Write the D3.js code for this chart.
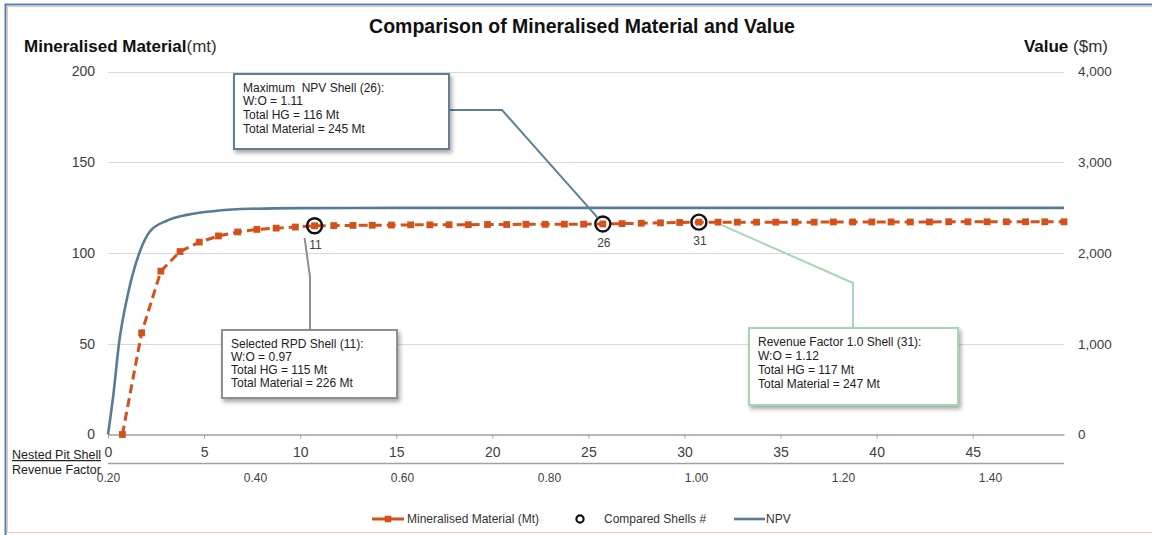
<!DOCTYPE html>
<html>
<head>
<meta charset="utf-8">
<script src="https://cdn.jsdelivr.net/npm/d3@7"></script>
<style>
  body { margin: 0; background: #fff; }
  svg { display: block; font-family: "Liberation Sans", Arial, sans-serif; }
</style>
</head>
<body>
<svg id="chart" width="1152" height="535"></svg>
<script>
// ---- data -------------------------------------------------------------
const shells = d3.range(1, 51);
const mineralisedMt = [
  0, 56, 90, 100.8, 106, 109.4, 111.6, 113, 113.7, 114.3,
  115, 115.1, 115.2, 115.3, 115.4, 115.5, 115.5, 115.6, 115.6, 115.7,
  115.7, 115.8, 115.8, 115.9, 115.9, 116, 116.2, 116.4, 116.6, 116.8,
  117, 117, 117, 117, 117, 117, 117, 117.1, 117.1, 117.1,
  117.1, 117.1, 117.1, 117.2, 117.2, 117.2, 117.2, 117.2, 117.2, 117.2
];
// NPV curve, sampled along the shell axis ($m)
const npvShell = [0, 0.28, 0.57, 1.03, 1.63, 2.19, 3.06, 4.1, 5.66, 7.4, 10, 15, 20, 30, 40, 49.75];
const npvValue = [0, 440, 1000, 1540, 2000, 2240, 2355, 2420, 2465, 2487, 2495, 2497, 2497, 2497, 2497, 2497];
const comparedShells = [11, 26, 31];

const shellTicks = [0, 5, 10, 15, 20, 25, 30, 35, 40, 45];
const revenueTicks = [0.2, 0.4, 0.6, 0.8, 1.0, 1.2, 1.4];
const leftTicks = [0, 50, 100, 150, 200];
const rightTicks = [0, 1000, 2000, 3000, 4000];

const notes = [
  { shell: 26, title: "Maximum  NPV Shell (26):", wo: "W:O = 1.11", hg: "Total HG = 116 Mt", total: "Total Material = 245 Mt" },
  { shell: 11, title: "Selected RPD Shell (11):", wo: "W:O = 0.97", hg: "Total HG = 115 Mt", total: "Total Material = 226 Mt" },
  { shell: 31, title: "Revenue Factor 1.0 Shell (31):", wo: "W:O = 1.12", hg: "Total HG = 117 Mt", total: "Total Material = 247 Mt" }
];

// ---- layout -----------------------------------------------------------
const svg = d3.select("#chart");
const plotL = 108, plotR = 1064, plotT = 71.5, plotB = 434.5;
// shell markers sit a quarter step to the left of their tick
const markerShift = -0.25;

const x = d3.scaleLinear().domain([0, 49.75]).range([plotL, plotR]);
const xRF = d3.scaleLinear().domain([0.2, 1.5]).range([plotL, plotR - 0.5]);
const yL = d3.scaleLinear().domain([0, 200]).range([plotB, plotT]);
const yR = d3.scaleLinear().domain([0, 4000]).range([plotB, plotT]);

const orange = "#D4511B";
const steel = "#557D95";
const tickColor = "#404040";

const defs = svg.append("defs");
const shadow = defs.append("filter").attr("id", "boxShadow")
  .attr("x", "-10%").attr("y", "-10%").attr("width", "130%").attr("height", "140%");
shadow.append("feDropShadow").attr("dx", 2).attr("dy", 3)
  .attr("stdDeviation", 2).attr("flood-color", "#000").attr("flood-opacity", 0.35);

// frame
svg.append("rect").attr("x", 7.5).attr("y", 6.5).attr("width", 1150).attr("height", 526)
  .attr("fill", "none").attr("stroke", "#F7C6A4").attr("stroke-width", 1);
svg.append("path").attr("d", "M5.5,540V4.5H1152")
  .attr("fill", "none").attr("stroke", "#4F81BD").attr("stroke-width", 2);

// title
svg.append("text").attr("x", 582).attr("y", 33).attr("text-anchor", "middle")
  .attr("font-size", 19.5).attr("font-weight", "bold").attr("fill", "#111")
  .text("Comparison of Mineralised Material and Value");

const lt = svg.append("text").attr("x", 24).attr("y", 52).attr("font-size", 17).attr("fill", "#111");
lt.append("tspan").attr("font-weight", "bold").text("Mineralised Material");
lt.append("tspan").attr("fill", "#333").text("(mt)");

const rt = svg.append("text").attr("x", 1108).attr("y", 52).attr("text-anchor", "end").attr("font-size", 17).attr("fill", "#111");
rt.append("tspan").attr("font-weight", "bold").text("Value");
rt.append("tspan").attr("fill", "#333").text(" ($m)");

// gridlines
svg.append("g").selectAll("line").data(leftTicks.filter(d => d > 0)).join("line")
  .attr("x1", plotL).attr("x2", plotR)
  .attr("y1", d => Math.round(yL(d)) + 0.5).attr("y2", d => Math.round(yL(d)) + 0.5)
  .attr("stroke", "#D9D9D9").attr("stroke-width", 1);

// left axis
const gl = svg.append("g").attr("transform", `translate(${plotL - 13},0)`)
  .call(d3.axisLeft(yL).tickValues(leftTicks).tickSize(0).tickPadding(0));
gl.select(".domain").remove();
gl.selectAll("text").attr("font-size", 14).attr("fill", tickColor).attr("font-family", null);

// right axis
const gr = svg.append("g").attr("transform", `translate(${plotR + 14},0)`)
  .call(d3.axisRight(yR).tickValues(rightTicks).tickSize(0).tickPadding(0).tickFormat(d3.format(",")));
gr.select(".domain").remove();
gr.selectAll("text").attr("font-size", 13.5).attr("fill", tickColor).attr("font-family", null);

// shell axis along zero
const gx = svg.append("g").attr("transform", `translate(0,${plotB})`)
  .call(d3.axisBottom(x).tickValues(shellTicks).tickSizeInner(4).tickSizeOuter(0).tickFormat(d3.format("d")));
gx.select(".domain").attr("stroke", "#A0A0A0").attr("stroke-width", 1.3);
gx.selectAll(".tick line").attr("stroke", "#A0A0A0");
gx.selectAll("text").attr("y", 13).attr("font-size", 14).attr("fill", tickColor).attr("font-family", null);

// revenue factor axis
const gxr = svg.append("g").attr("transform", `translate(0,463)`)
  .call(d3.axisBottom(xRF).tickValues(revenueTicks).tickSize(0).tickFormat(d3.format(".2f")));
gxr.select(".domain").attr("stroke", "#A0A0A0").attr("stroke-width", 1.3)
  .attr("d", `M${plotL},0.5H${plotR}`);
gxr.selectAll("text").attr("y", 10).attr("font-size", 12).attr("fill", tickColor).attr("font-family", null);

svg.append("text").attr("x", 12).attr("y", 459).attr("font-size", 12.5).attr("fill", "#222")
  .attr("text-decoration", "underline").text("Nested Pit Shell");
svg.append("text").attr("x", 12).attr("y", 474).attr("font-size", 12.5).attr("fill", "#222")
  .text("Revenue Factor");

// NPV line
const npvPts = npvShell.map((s, i) => [x(s), yR(npvValue[i])]);
svg.append("path").attr("d", d3.line().curve(d3.curveMonotoneX)(npvPts))
  .attr("fill", "none").attr("stroke", steel).attr("stroke-width", 2.6);

// mineralised material line + markers
const matPts = shells.map((s, i) => [x(s + markerShift), yL(mineralisedMt[i])]);
svg.append("path").attr("d", d3.line()(matPts))
  .attr("fill", "none").attr("stroke", orange).attr("stroke-width", 3)
  .attr("stroke-dasharray", "9,5");
svg.append("g").selectAll("rect").data(matPts).join("rect")
  .attr("x", d => d[0] - 3.4).attr("y", d => d[1] - 3.4)
  .attr("width", 6.8).attr("height", 6.8).attr("fill", orange);

// compared shells
const cmp = comparedShells.map(s => ({ s, px: x(s + markerShift), py: yL(mineralisedMt[s - 1]) }));
svg.append("g").selectAll("circle").data(cmp).join("circle")
  .attr("cx", d => d.px).attr("cy", d => d.py).attr("r", 7.5)
  .attr("fill", "none").attr("stroke", "#111").attr("stroke-width", 2.4);
svg.append("g").selectAll("text").data(cmp).join("text")
  .attr("x", d => d.px + 1).attr("y", d => d.py + 23).attr("text-anchor", "middle")
  .attr("font-size", 12).attr("fill", tickColor).text(d => d.s);

// callouts
const boxes = [
  { note: notes[0], bx: 234, by: 74, bw: 215, bh: 75, stroke: "#5E8096", lh: 13.8,
    path: p => `M449,110H502L${p.px - 5},${p.py - 6}` },
  { note: notes[1], bx: 222, by: 330, bw: 175, bh: 68, stroke: "#8E918B", lh: 13.3,
    path: p => `M310,330V277L${p.px - 10},${p.py + 12}` },
  { note: notes[2], bx: 749, by: 328, bw: 209, bh: 77, stroke: "#A6D7B3", lh: 14,
    path: p => `M853,328V283L${p.px + 23},${p.py + 3}` }
];
const cmpByShell = Object.fromEntries(cmp.map(d => [d.s, d]));
boxes.forEach(b => {
  const p = cmpByShell[b.note.shell];
  svg.append("path").attr("d", b.path(p)).attr("fill", "none")
    .attr("stroke", b.stroke).attr("stroke-width", 2);
  svg.append("rect").attr("x", b.bx).attr("y", b.by).attr("width", b.bw).attr("height", b.bh)
    .attr("fill", "#fff").attr("stroke", b.stroke).attr("stroke-width", 2)
    .attr("filter", "url(#boxShadow)");
  const t = svg.append("text").attr("font-size", 12).attr("fill", "#222");
  [b.note.title, b.note.wo, b.note.hg, b.note.total].forEach((line, i) => {
    t.append("tspan").attr("x", b.bx + 9).attr("y", b.by + 17.5 + i * b.lh)
      .attr("xml:space", "preserve").style("white-space", "pre").text(line);
  });
});

// legend
const ly = 519;
const lg = svg.append("g").attr("font-size", 12).attr("fill", "#333");
lg.append("line").attr("x1", 372).attr("x2", 404).attr("y1", ly).attr("y2", ly)
  .attr("stroke", orange).attr("stroke-width", 3);
lg.append("rect").attr("x", 384.7).attr("y", ly - 3.3).attr("width", 6.6).attr("height", 6.6).attr("fill", orange);
lg.append("text").attr("x", 407).attr("y", ly + 4).text("Mineralised Material (Mt)");
lg.append("circle").attr("cx", 580).attr("cy", ly).attr("r", 3.6)
  .attr("fill", "none").attr("stroke", "#111").attr("stroke-width", 2.2);
lg.append("text").attr("x", 604).attr("y", ly + 4).text("Compared Shells #");
lg.append("line").attr("x1", 734).attr("x2", 765).attr("y1", ly).attr("y2", ly)
  .attr("stroke", steel).attr("stroke-width", 2.6);
lg.append("text").attr("x", 766).attr("y", ly + 4).text("NPV");
</script>
</body>
</html>
